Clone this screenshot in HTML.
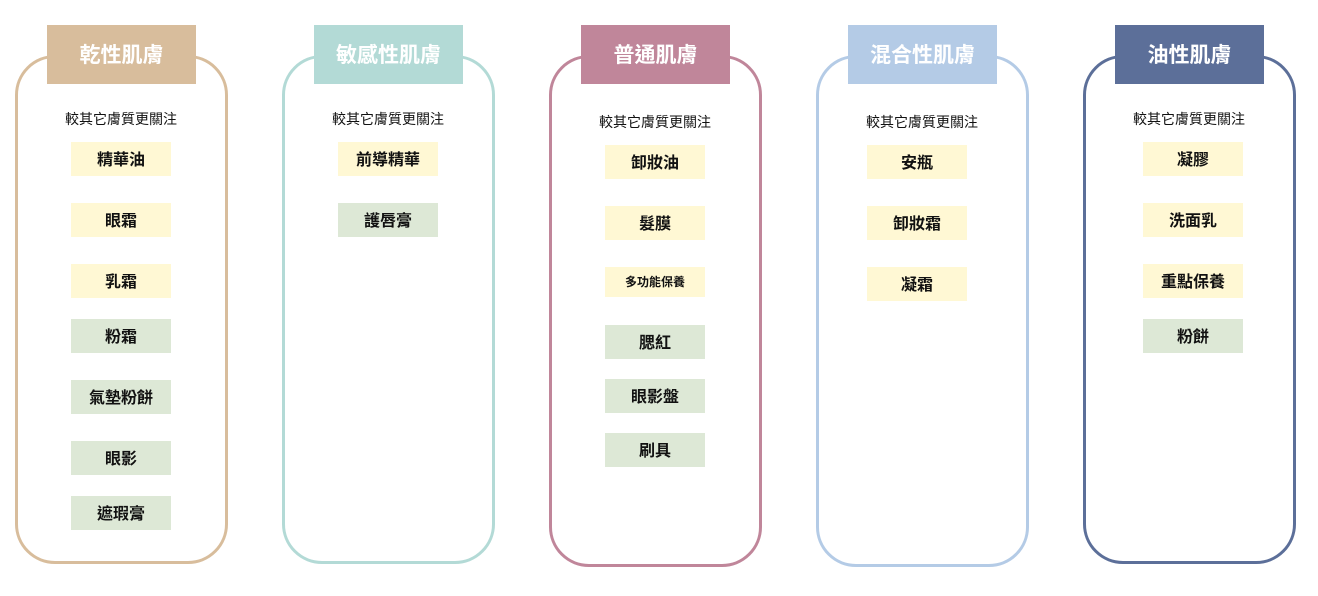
<!DOCTYPE html>
<html><head><meta charset="utf-8"><style>
body{margin:0;width:1318px;height:596px;background:#fff;position:relative;overflow:hidden;font-family:"Liberation Sans","Noto Sans CJK TC",sans-serif;}
.box{position:absolute;width:207px;border:3px solid;border-radius:40px;box-sizing:border-box;}
.hd{position:absolute;height:59px;width:149px;color:#fff;font-size:21px;font-weight:bold;text-align:center;line-height:62px;}
.sub{position:absolute;width:212px;text-align:center;font-size:14px;color:#111;}
.it{position:absolute;width:100px;height:34px;line-height:37px;text-align:center;font-size:16px;font-weight:bold;color:#111;}
.y{background:#fff8d4}.g{background:#dde8d6}
</style></head><body>
<div class="box" style="left:15px;top:55px;height:509px;width:213px;border-color:#d8bd9c"></div>
<div class="hd" style="left:47px;top:25px;background:#d8bd9c">乾性肌膚</div>
<div class="sub" style="left:15px;top:109px">較其它膚質更關注</div>
<div class="it y" style="left:71px;top:142px">精華油</div>
<div class="it y" style="left:71px;top:203px">眼霜</div>
<div class="it y" style="left:71px;top:264px">乳霜</div>
<div class="it g" style="left:71px;top:319px">粉霜</div>
<div class="it g" style="left:71px;top:380px">氣墊粉餅</div>
<div class="it g" style="left:71px;top:441px">眼影</div>
<div class="it g" style="left:71px;top:496px">遮瑕膏</div>

<div class="box" style="left:282px;top:55px;height:509px;width:213px;border-color:#b3dad6"></div>
<div class="hd" style="left:314px;top:25px;background:#b3dad6">敏感性肌膚</div>
<div class="sub" style="left:282px;top:109px">較其它膚質更關注</div>
<div class="it y" style="left:338px;top:142px">前導精華</div>
<div class="it g" style="left:338px;top:203px">護唇膏</div>

<div class="box" style="left:549px;top:55px;height:512px;width:213px;border-color:#c0869a"></div>
<div class="hd" style="left:581px;top:25px;background:#c0869a">普通肌膚</div>
<div class="sub" style="left:549px;top:112px">較其它膚質更關注</div>
<div class="it y" style="left:605px;top:145px">卸妝油</div>
<div class="it y" style="left:605px;top:206px">髮膜</div>
<div class="it y" style="left:605px;top:267px;height:30px;line-height:31px;font-size:12px">多功能保養</div>
<div class="it g" style="left:605px;top:325px">腮紅</div>
<div class="it g" style="left:605px;top:379px">眼影盤</div>
<div class="it g" style="left:605px;top:433px">刷具</div>

<div class="box" style="left:816px;top:55px;height:512px;width:213px;border-color:#b4cbe6"></div>
<div class="hd" style="left:848px;top:25px;background:#b4cbe6">混合性肌膚</div>
<div class="sub" style="left:816px;top:112px">較其它膚質更關注</div>
<div class="it y" style="left:867px;top:145px">安瓶</div>
<div class="it y" style="left:867px;top:206px">卸妝霜</div>
<div class="it y" style="left:867px;top:267px">凝霜</div>

<div class="box" style="left:1083px;top:55px;height:509px;width:213px;border-color:#5c6f99"></div>
<div class="hd" style="left:1115px;top:25px;background:#5c6f99">油性肌膚</div>
<div class="sub" style="left:1083px;top:109px">較其它膚質更關注</div>
<div class="it y" style="left:1143px;top:142px">凝膠</div>
<div class="it y" style="left:1143px;top:203px">洗面乳</div>
<div class="it y" style="left:1143px;top:264px">重點保養</div>
<div class="it g" style="left:1143px;top:319px">粉餅</div>
</body></html>
